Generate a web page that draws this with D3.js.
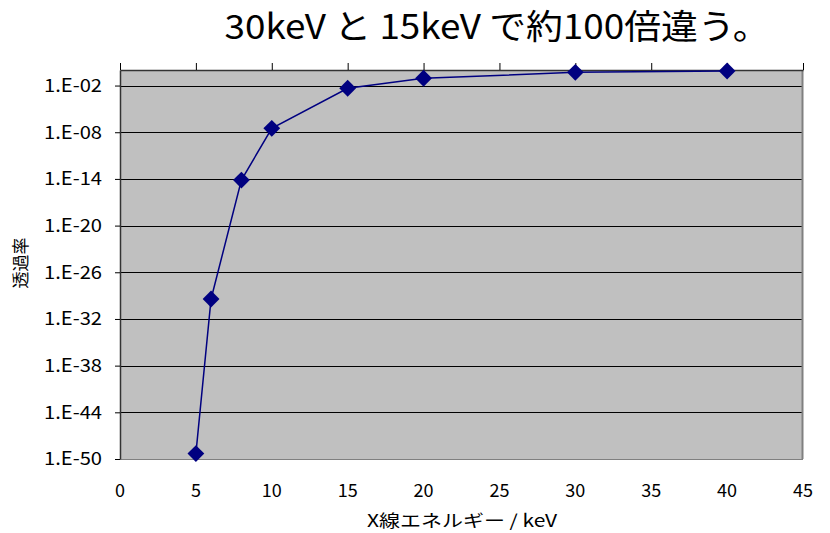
<!DOCTYPE html>
<html>
<head>
<meta charset="utf-8">
<script src="https://cdn.jsdelivr.net/npm/d3@7"></script>
<style>
  html, body { margin: 0; padding: 0; background: #fff; }
  svg { display: block; }
  text { font-family: "Noto Sans CJK JP", "Noto Sans", sans-serif; fill: #000; }
</style>
</head>
<body>
<svg id="chart" width="830" height="533"></svg>
<script>
// X-ray energy (keV) and transmittance
const energies = [5, 6, 8, 10, 15, 20, 30, 40];
const transmittance = [5e-50, 3.7e-30, 7.2e-15, 3.2e-8, 4.5e-3, 8.7e-2, 0.5, 0.74];

// Axis ticks
const xTicks = [0, 5, 10, 15, 20, 25, 30, 35, 40, 45];
const yTicks = [1e-50, 1e-44, 1e-38, 1e-32, 1e-26, 1e-20, 1e-14, 1e-8, 1e-2];
const yTickLabels = ["1.E-50", "1.E-44", "1.E-38", "1.E-32", "1.E-26", "1.E-20", "1.E-14", "1.E-08", "1.E-02"];

const titleText = "30keV と 15keV で約100倍違う。";
const xTitle = "X線エネルギー / keV";
const yTitle = "透過率";

const svg = d3.select("#chart");
const plot = { left: 120, top: 70, right: 803, bottom: 459 };

const x = d3.scaleLinear().domain([0, 45]).range([plot.left, plot.right]);
const y = d3.scaleLog().domain([1e-50, 1]).range([plot.bottom, plot.top]);

// plot background
svg.append("rect")
  .attr("x", plot.left).attr("y", plot.top)
  .attr("width", plot.right - plot.left).attr("height", plot.bottom - plot.top)
  .attr("fill", "#c0c0c0");

// horizontal grid lines
svg.append("g").selectAll("line").data(yTicks).join("line")
  .attr("x1", plot.left).attr("x2", plot.right)
  .attr("y1", d => Math.round(y(d)) + 0.5).attr("y2", d => Math.round(y(d)) + 0.5)
  .attr("stroke", "#000").attr("stroke-width", 1);

// right and bottom frame
svg.append("line").attr("x1", plot.right - 0.5).attr("x2", plot.right - 0.5)
  .attr("y1", plot.top).attr("y2", plot.bottom).attr("stroke", "#808080").attr("stroke-width", 2);
svg.append("line").attr("x1", plot.left).attr("x2", plot.right)
  .attr("y1", plot.bottom + 0.5).attr("y2", plot.bottom + 0.5).attr("stroke", "#808080").attr("stroke-width", 1);

// x axis line along the top with upward ticks
const xAxisTop = svg.append("g")
  .attr("transform", `translate(0,${plot.top})`)
  .call(d3.axisTop(x).tickValues(xTicks).tickSize(7).tickSizeOuter(0).tickFormat(""));
xAxisTop.select(".domain").attr("stroke", "#333").attr("stroke-width", 1.5);
xAxisTop.selectAll(".tick line").attr("stroke", "#000");

// x tick labels below the plot
svg.append("g").selectAll("text").data(xTicks).join("text")
  .attr("x", d => x(d)).attr("y", 497)
  .attr("text-anchor", "middle")
  .attr("font-size", 18)
  .attr("textLength", d => String(d).length * 10)
  .attr("lengthAdjust", "spacingAndGlyphs")
  .text(d => d);

// y axis
const yAxis = svg.append("g")
  .attr("transform", `translate(${plot.left},0)`)
  .call(d3.axisLeft(y).tickValues(yTicks).tickSize(5).tickSizeOuter(0)
    .tickFormat((d, i) => yTickLabels[i]));
yAxis.select(".domain").attr("stroke", "#333").attr("stroke-width", 1.5);
yAxis.selectAll(".tick line").attr("stroke", "#000");
yAxis.selectAll(".tick text")
  .attr("x", -18)
  .attr("font-size", 18)
  .attr("fill", "#000")
  .attr("textLength", 58)
  .attr("lengthAdjust", "spacingAndGlyphs")
  .style("font-family", '"Noto Sans CJK JP", sans-serif');

// data line and diamond markers
const line = d3.line().x((d, i) => x(energies[i])).y(d => y(d));
svg.append("path").datum(transmittance)
  .attr("d", line)
  .attr("fill", "none").attr("stroke", "#000080").attr("stroke-width", 1.5);

const diamond = d3.symbol().type(d3.symbolDiamond2).size(180);
svg.append("g").selectAll("path").data(transmittance).join("path")
  .attr("transform", (d, i) => `translate(${x(energies[i])},${y(d)})`)
  .attr("d", diamond)
  .attr("fill", "#000080");

// titles
svg.append("text")
  .attr("x", 497).attr("y", 39)
  .attr("text-anchor", "middle")
  .attr("font-size", 34)
  .attr("textLength", 545)
  .attr("lengthAdjust", "spacingAndGlyphs")
  .text(titleText);

svg.append("text")
  .attr("x", 462).attr("y", 527)
  .attr("text-anchor", "middle")
  .attr("font-size", 17)
  .attr("textLength", 190)
  .attr("lengthAdjust", "spacingAndGlyphs")
  .text(xTitle);

svg.append("text")
  .attr("transform", "translate(27,263) rotate(-90)")
  .attr("text-anchor", "middle")
  .attr("font-size", 17)
  .text(yTitle);
</script>
</body>
</html>
